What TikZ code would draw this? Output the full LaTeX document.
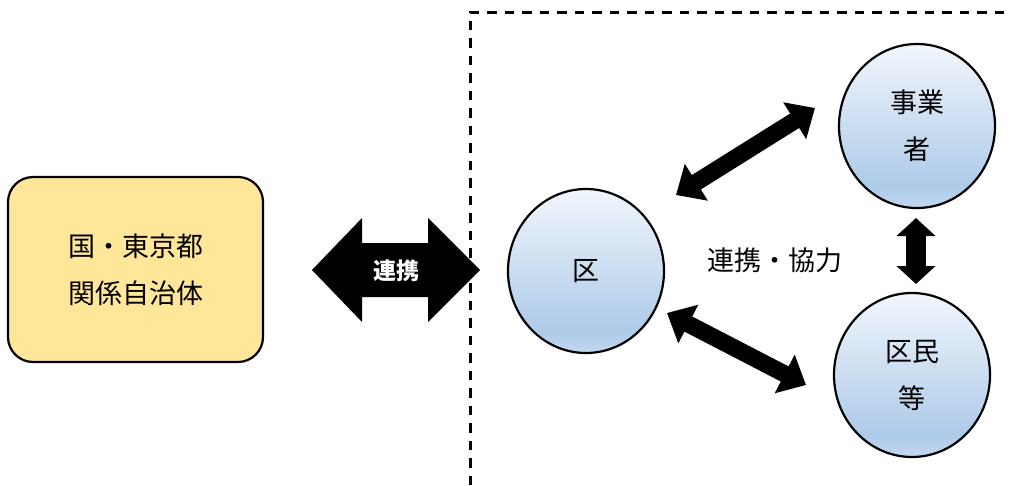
\documentclass[tikz,border=0pt]{standalone}
\usepackage{fontspec}
\newfontfamily\jp{Noto Sans CJK JP}
\usetikzlibrary{arrows.meta,shapes.geometric}
\definecolor{boxfill}{HTML}{FFE699}
\definecolor{bubtop}{HTML}{F2F6FC}
\definecolor{bubmid}{HTML}{AECBE9}
\definecolor{bubbot}{HTML}{C2D7EE}
\pgfdeclareverticalshading{bubble}{100bp}{color(0bp)=(bubbot); color(25bp)=(bubbot); color(32bp)=(bubmid); color(75bp)=(bubtop); color(100bp)=(bubtop)}
\tikzset{
  every node/.style={font=\jp\fontsize{27}{47}\selectfont, text=black},
  partner/.style={draw=black, line width=2.2pt, rounded corners=25pt, fill=boxfill,
    minimum width=255pt, minimum height=185pt, align=center},
  bubblenode/.style={ellipse, draw=black, line width=2.2pt, shading=bubble,
    minimum width=156pt, minimum height=164pt, inner sep=0pt, align=center},
  link/.style={line width=17pt, {Triangle[width=42pt,length=24pt]}-{Triangle[width=42pt,length=24pt]}},
  shortlink/.style={line width=20pt, {Triangle[width=38pt,length=18pt]}-{Triangle[width=38pt,length=18pt]}},
  frame/.style={line width=3pt, dash pattern=on 9.5pt off 8pt}
}
\begin{document}
\begin{tikzpicture}[x=1pt,y=-1pt]
\useasboundingbox (0,0) rectangle (1012,485);

% outer partners
\node[partner] (gov) at (135.5,269.5) {国・東京都\\関係自治体};

% wide cooperation arrow
\fill[black] (312,270) -- (362,218) -- (362,243) -- (428,243) -- (428,218)
  -- (480,270) -- (428,322) -- (428,297) -- (362,297) -- (362,322) -- cycle;
\node[font=\jp\bfseries\fontsize{23}{26}\selectfont, text=white] (coop) at (396,271) {連携};

% ward boundary
\draw[frame] (470,485) -- (470,12) -- (1012,12);

% actors inside the ward
\node[bubblenode] (ku) at (586,271) {区};
\node[bubblenode] (biz) at (917,126) {事業\\者};
\node[bubblenode] (res) at (912,375) {区民\\等};
\node (label) at (775,260) {連携・協力};

% arrow end points
\coordinate (kuA) at (676,195);
\coordinate (bizA) at (815,108);
\coordinate (kuB) at (667,313);
\coordinate (resB) at (806,385);
\coordinate (bizC) at (916,218);
\coordinate (resC) at (916,284);

\draw[link] (kuA) -- (bizA);
\draw[link] (kuB) -- (resB);
\draw[shortlink] (bizC) -- (resC);
\end{tikzpicture}
\end{document}
